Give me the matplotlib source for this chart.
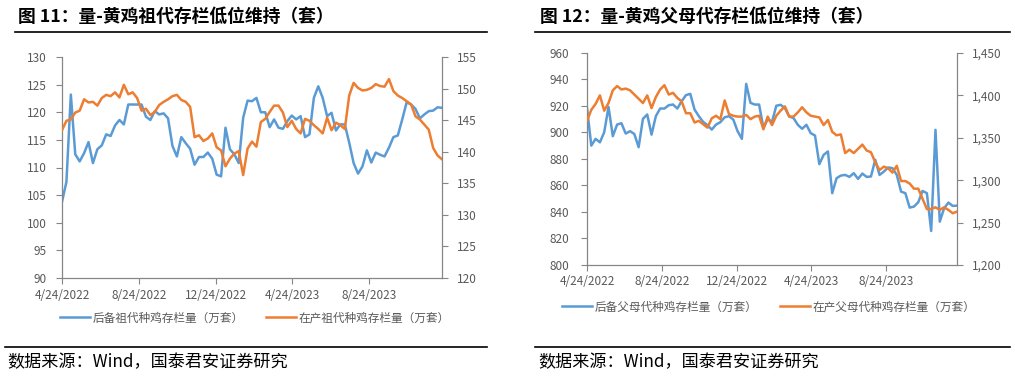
import matplotlib.pyplot as plt
import matplotlib.ticker as mticker
from matplotlib.lines import Line2D
import pandas as pd

plt.rcParams['font.family'] = ['Noto Sans CJK SC', 'DejaVu Sans']
plt.rcParams['axes.unicode_minus'] = False

# 周度数据 2022-04-24 起
weeks = pd.date_range('2022-04-24', periods=87, freq='7D')
tick_dates = pd.to_datetime(['2022-04-24', '2022-08-24', '2022-12-24', '2023-04-24', '2023-08-24'])
tick_labels = ['4/24/2022', '8/24/2022', '12/24/2022', '4/24/2023', '8/24/2023']

# 图11 祖代（万套）
gp_reserve = [103.8, 107.4, 123.2, 112.4, 111.1, 112.6, 114.6, 110.8, 113.3, 114.0,
              116.0, 115.7, 117.6, 118.6, 117.8, 121.4, 121.4, 121.4, 121.4, 119.2,
              118.6, 120.2, 119.6, 119.8, 118.9, 113.9, 112.0, 115.5, 114.4, 113.4,
              110.5, 111.9, 111.9, 112.7, 111.6, 108.7, 108.4, 117.2, 113.3, 112.4,
              110.8, 119.0, 122.1, 122.0, 122.6, 120.0, 120.0, 117.3, 118.7, 117.2,
              117.0, 118.4, 119.4, 118.7, 119.3, 115.5, 116.0, 122.6, 124.7, 122.6,
              119.3, 119.9, 116.7, 117.8, 117.8, 114.5, 110.8, 108.9, 110.2, 113.1,
              110.9, 112.7, 112.3, 112.0, 113.6, 115.5, 115.8, 118.7, 121.8, 121.4,
              120.6, 118.9, 119.6, 120.2, 120.3, 120.9, 120.8]
gp_laying = [143.4, 144.9, 145.1, 146.2, 146.5, 148.3, 147.8, 147.9, 147.3, 148.5,
             149.0, 148.8, 149.4, 148.6, 150.6, 149.1, 149.4, 148.5, 146.5, 146.8,
             145.8, 146.3, 147.4, 147.9, 148.3, 148.8, 149.0, 148.2, 147.9, 147.1,
             142.3, 142.6, 141.7, 142.1, 142.9, 140.7, 140.2, 137.7, 138.9, 139.7,
             140.1, 136.3, 140.5, 141.6, 140.8, 144.7, 145.2, 146.3, 147.3, 147.3,
             146.2, 143.9, 144.9, 143.6, 142.9, 145.2, 144.9, 144.2, 143.6, 142.9,
             145.4, 143.4, 144.6, 144.2, 143.6, 148.9, 150.9, 150.1, 149.7, 149.8,
             150.1, 150.7, 150.4, 150.3, 151.5, 149.6, 148.9, 148.5, 148.0, 147.5,
             145.6, 145.1, 144.3, 143.5, 140.6, 139.4, 138.8]

# 图12 父母代（万套）
pp_reserve = [918.6, 890.1, 895.2, 892.6, 900.2, 919.3, 897.2, 906.0, 907.0, 899.2,
              901.0, 898.9, 888.9, 910.3, 913.6, 898.4, 912.3, 918.1, 918.1, 920.6,
              921.1, 918.1, 923.6, 928.2, 929.2, 917.3, 912.3, 908.0, 905.5, 902.2,
              906.0, 907.8, 911.5, 912.3, 909.8, 901.0, 895.2, 936.7, 922.4, 921.1,
              921.1, 903.5, 910.0, 908.0, 920.2, 920.9, 918.4, 912.1, 910.9, 905.8,
              902.8, 905.8, 899.5, 897.7, 876.1, 883.1, 885.7, 854.2, 865.5, 867.5,
              868.0, 866.5, 869.3, 865.0, 869.0, 866.5, 866.8, 879.4, 868.0, 870.5,
              873.6, 873.1, 868.0, 855.4, 854.2, 843.3, 844.1, 847.4, 855.9, 854.2,
              825.7, 902.0, 832.7, 842.8, 847.1, 844.6, 844.8]
pp_laying = [1370, 1383, 1390, 1400, 1382, 1391, 1406, 1411, 1407, 1408,
             1406, 1401, 1396, 1391, 1400, 1385, 1398, 1407, 1412, 1401,
             1403, 1397, 1393, 1379, 1379, 1368, 1370, 1366, 1362, 1373,
             1376, 1372, 1394, 1378, 1376, 1375, 1375, 1377, 1372, 1375,
             1376, 1360, 1375, 1365, 1376, 1382, 1387, 1375, 1375, 1380,
             1386, 1380, 1376, 1375, 1374, 1365, 1371, 1357, 1353, 1354,
             1332, 1336, 1332, 1337, 1342, 1335, 1333, 1321, 1312, 1316,
             1314, 1309, 1317, 1299, 1299, 1296, 1290, 1290, 1278, 1266,
             1266, 1268, 1265, 1268, 1265, 1261, 1263]

blue = '#5B9BD5'
orange = '#ED7D31'
grey = '#868686'
txt = '#595959'

W, H = 1015, 377
fig = plt.figure(figsize=(W / 100, H / 100), dpi=100)


def px(x0, y0, x1, y1):
    return [x0 / W, 1 - y1 / H, (x1 - x0) / W, (y1 - y0) / H]


def panel(rect, s1, s2, lab1, lab2, ylim1, ystep1, ylim2, ystep2, comma, pads, leg_xy):
    ax = fig.add_axes(rect)
    ax2 = ax.twinx()
    l1, = ax.plot(weeks, s1, color=blue, lw=1.8)
    l2, = ax2.plot(weeks, s2, color=orange, lw=1.8)
    ax.set_xlim(weeks[0], weeks[-1])
    ax.set_ylim(*ylim1)
    ax2.set_ylim(*ylim2)
    ax.yaxis.set_major_locator(mticker.MultipleLocator(ystep1))
    ax2.yaxis.set_major_locator(mticker.MultipleLocator(ystep2))
    if comma:
        ax2.yaxis.set_major_formatter(mticker.StrMethodFormatter('{x:,.0f}'))
    ax.set_xticks(tick_dates)
    ax.set_xticklabels(tick_labels)
    for a in (ax, ax2):
        for s in a.spines.values():
            s.set_visible(False)
    ax.spines['left'].set_visible(True)
    ax.spines['bottom'].set_visible(True)
    ax2.spines['right'].set_visible(True)
    for s in (ax.spines['left'], ax.spines['bottom'], ax2.spines['right']):
        s.set_color(grey)
        s.set_linewidth(0.9)
    ax.tick_params(axis='x', direction='out', length=4, color=grey, labelsize=8.5,
                   labelcolor=txt, pad=pads[0])
    ax.tick_params(axis='y', direction='out', length=4, color=grey, labelsize=8.5,
                   labelcolor=txt, pad=pads[1])
    ax2.tick_params(axis='y', direction='out', length=4, color=grey, labelsize=8.5,
                    labelcolor=txt, pad=pads[2])
    fig.legend([l1, l2], [lab1, lab2], loc='center left',
               bbox_to_anchor=(leg_xy[0] / W, 1 - leg_xy[1] / H), ncol=2, frameon=False,
               fontsize=8.4, labelcolor=txt, handlelength=2.6, handletextpad=0.2,
               columnspacing=1.9, borderpad=0, borderaxespad=0)
    return ax


panel(px(62, 57, 442, 278), gp_reserve, gp_laying,
      '后备祖代种鸡存栏量（万套）', '在产祖代种鸡存栏量（万套）',
      (90, 130), 5, (120, 155), 5, False, (4, 7, 7), (60, 318))
panel(px(587, 53, 957, 265), pp_reserve, pp_laying,
      '后备父母代种鸡存栏量（万套）', '在产父母代种鸡存栏量（万套）',
      (800, 960), 20, (1200, 1450), 50, True, (3, 9, 7), (562, 307))

# 标题与分隔线
fig.text(18 / W, 1 - 17 / H, '图 11：量-黄鸡祖代存栏低位维持（套）', fontsize=12.8,
         fontweight='bold', va='center', ha='left')
fig.text(540 / W, 1 - 17 / H, '图 12：量-黄鸡父母代存栏低位维持（套）', fontsize=12.8,
         fontweight='bold', va='center', ha='left')
for x0, x1 in [(15, 487), (535, 1010)]:
    fig.add_artist(Line2D([x0 / W, x1 / W], [1 - 32 / H] * 2, color='black', lw=1.2))
for x0, x1 in [(5, 487), (535, 1010)]:
    fig.add_artist(Line2D([x0 / W, x1 / W], [1 - 347 / H] * 2, color='black', lw=1.2))
fig.text(7 / W, 1 - 362 / H, '数据来源：Wind，国泰君安证券研究', fontsize=12.3, va='center', ha='left')
fig.text(538 / W, 1 - 362 / H, '数据来源：Wind，国泰君安证券研究', fontsize=12.3, va='center', ha='left')

fig.savefig('out.png', dpi=100)
